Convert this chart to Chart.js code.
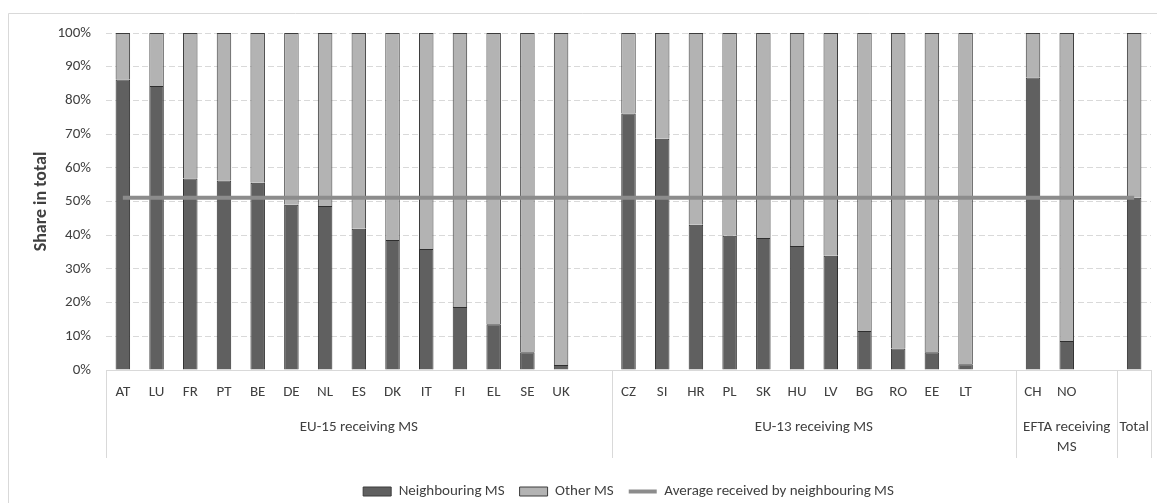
<!DOCTYPE html>
<html><head><meta charset="utf-8">
<script src="https://cdn.jsdelivr.net/npm/chart.js@4.4.1/dist/chart.umd.min.js"></script>
<style>html,body{margin:0;padding:0;background:#fff;} #wrap{position:relative;width:1157px;height:503px;}</style>
</head><body><div id="wrap"><canvas id="c"></canvas></div>
<script>
// ---- data ----
const tickLabels = ['AT','LU','FR','PT','BE','DE','NL','ES','DK','IT','FI','EL','SE','UK','',
  'CZ','SI','HR','PL','SK','HU','LV','BG','RO','EE','LT','',
  'CH','NO','',
  ''];
const neighbouringMS = [86.2,84.3,56.8,56.2,55.6,49.0,48.7,41.9,38.6,35.9,18.7,13.6,5.3,1.5,null,
  76.1,68.6,43.1,39.8,39.2,36.8,33.9,11.6,6.4,5.3,1.7,null,
  86.8,8.6,null,
  51.1];
const otherMS = [13.8,15.7,43.2,43.8,44.4,51.0,51.3,58.1,61.4,64.1,81.3,86.4,94.7,98.5,null,
  23.9,31.4,56.9,60.2,60.8,63.2,66.1,88.4,93.6,94.7,98.3,null,
  13.2,91.4,null,
  48.9];
const averageNeighbouring = [51.1,51.1,51.1,51.1,51.1,51.1,51.1,51.1,51.1,51.1,51.1,51.1,51.1,51.1,null,
  51.1,51.1,51.1,51.1,51.1,51.1,51.1,51.1,51.1,51.1,51.1,null,
  51.1,51.1,null,
  51.1];
const groupLabels = [['EU-15 receiving MS'], ['EU-13 receiving MS'], ['EFTA receiving','MS'], ['Total']];
const groupSpans = [[0,14],[15,26],[27,29],[30,30]];
const yTicks = [0,10,20,30,40,50,60,70,80,90,100];

const FONT = 'Carlito, Calibri, Lato, sans-serif';
const FS = 15;
Chart.defaults.font.family = FONT;
Chart.defaults.color = '#404040';

const decor = {
  id: 'decor',
  beforeDraw(chart) {
    const ctx = chart.ctx;
    ctx.save();
    ctx.fillStyle = '#fff';
    ctx.fillRect(0, 0, chart.width, chart.height);
    ctx.strokeStyle = '#d9d9d9';
    ctx.lineWidth = 1;
    ctx.beginPath();
    ctx.moveTo(8.5, chart.height);
    ctx.lineTo(8.5, 13.5);
    ctx.lineTo(chart.width, 13.5);
    ctx.stroke();
    ctx.restore();
  },
  afterDraw(chart) {
    const ctx = chart.ctx;
    const xs = chart.scales.x;
    const top = chart.chartArea.bottom;
    ctx.save();
    ctx.strokeStyle = '#d9d9d9';
    ctx.lineWidth = 1;
    const bounds = [-0.5];
    groupSpans.forEach(s => bounds.push(s[1] + 0.5));
    ctx.beginPath();
    bounds.forEach(b => {
      const x = Math.round(xs.getPixelForValue(b)) + 0.5;
      ctx.moveTo(x, top);
      ctx.lineTo(x, top + 88);
    });
    ctx.stroke();
    ctx.fillStyle = '#404040';
    ctx.font = FS + 'px ' + FONT;
    ctx.textAlign = 'center';
    ctx.textBaseline = 'middle';
    groupSpans.forEach((s, i) => {
      const cx = (xs.getPixelForValue(s[0] - 0.5) + xs.getPixelForValue(s[1] + 0.5)) / 2;
      groupLabels[i].forEach((t, j) => ctx.fillText(t, cx, top + 57 + j * 20));
    });
    ctx.restore();
  }
};

new Chart(document.getElementById('c'), {
  data: {
    labels: tickLabels,
    datasets: [
      { type: 'line', label: 'Average received by neighbouring MS', data: averageNeighbouring,
        borderColor: '#8c8c8c', backgroundColor: '#8c8c8c', borderWidth: 4, pointRadius: 0,
        spanGaps: true, order: 0, stack: 'avg' },
      { type: 'bar', label: 'Neighbouring MS', data: neighbouringMS,
        backgroundColor: '#606060', borderColor: '#2e2e2e', borderWidth: 1, stack: 's', order: 1,
        categoryPercentage: 1, barPercentage: 0.43 },
      { type: 'bar', label: 'Other MS', data: otherMS,
        backgroundColor: '#b3b3b3', borderColor: '#3c3c3c', borderWidth: 1, stack: 's', order: 1,
        categoryPercentage: 1, barPercentage: 0.43 }
    ]
  },
  options: {
    responsive: true, maintainAspectRatio: false, animation: false,
    layout: { padding: { left: 0, right: 6, top: 33, bottom: -6 } },
    plugins: {
      tooltip: { enabled: false },
      legend: {
        position: 'bottom',
        fullSize: false,
        labels: {
          usePointStyle: true, pointStyleWidth: 28, boxHeight: 9, padding: 15,
          font: { size: FS }, color: '#404040',
          generateLabels(chart) {
            const order = [1, 2, 0];
            return order.map(i => {
              const ds = chart.data.datasets[i];
              const isLine = ds.type === 'line';
              return { text: ds.label, fillStyle: ds.backgroundColor, strokeStyle: isLine ? ds.borderColor : '#3c3c3c',
                lineWidth: isLine ? 4 : 1, pointStyle: isLine ? 'line' : 'rect', datasetIndex: i, hidden: false, fontColor: '#404040' };
            });
          }
        }
      }
    },
    scales: {
      x: {
        stacked: true,
        grid: { display: false, drawTicks: false },
        border: { display: true, color: '#d9d9d9', width: 1 },
        ticks: { padding: 13, font: { size: FS }, color: '#404040', maxRotation: 0, autoSkip: false },
        afterFit(s) { s.height = 99; }
      },
      y: {
        stacked: true, min: 0, max: 100,
        afterBuildTicks(s) { s.ticks = yTicks.map(v => ({ value: v })); },
        grid: { color: '#d9d9d9', drawTicks: false, lineWidth: 1 },
        border: { display: false, dash: [6, 3] },
        ticks: { padding: 15, font: { size: FS }, color: '#404040', callback: v => v + '%' },
        title: { display: true, text: 'Share in total', font: { size: 18, weight: 'bold' }, color: '#404040', padding: { top: 31, bottom: 0 } },
        afterFit(s) { s.width = 106; }
      }
    }
  },
  plugins: [decor]
});
</script>
</body></html>
